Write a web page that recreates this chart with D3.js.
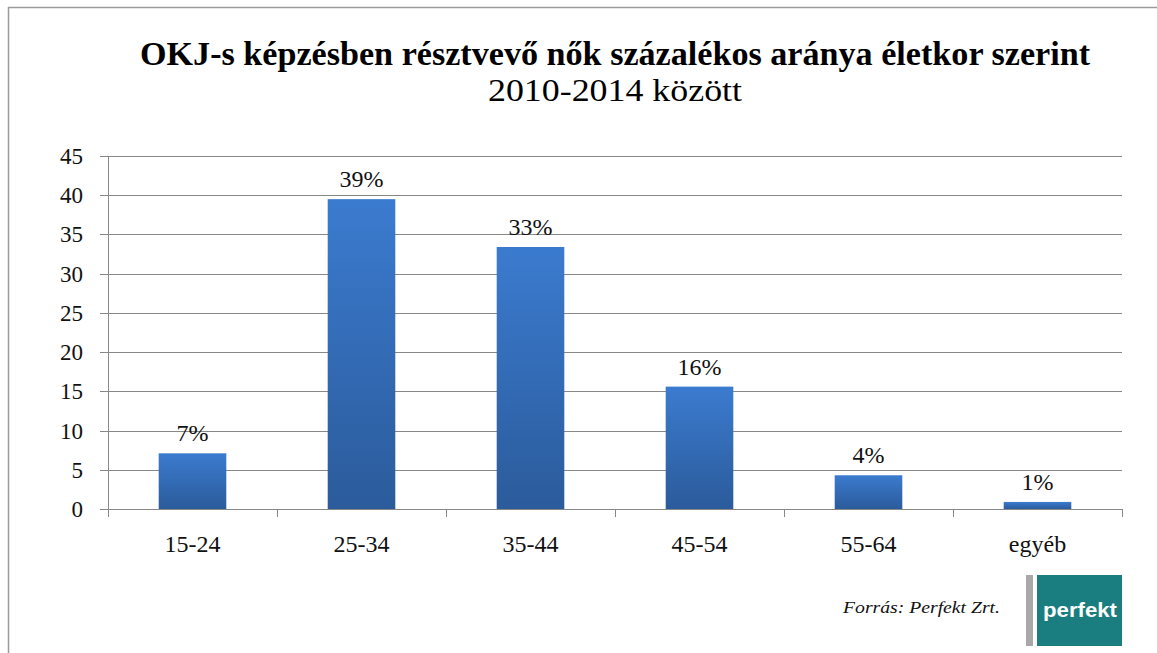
<!DOCTYPE html>
<html>
<head>
<meta charset="utf-8">
<script src="https://cdn.jsdelivr.net/npm/d3@7"></script>
<style>
  body { margin: 0; background: #fff; }
  svg { display: block; }
</style>
</head>
<body>
<svg width="1157" height="653"></svg>
<script>
var categories = ["15-24", "25-34", "35-44", "45-54", "55-64", "egyéb"];
var values = [7.1, 39.5, 33.4, 15.6, 4.3, 0.9];
var labels = ["7%", "39%", "33%", "16%", "4%", "1%"];
var yTicks = [0, 5, 10, 15, 20, 25, 30, 35, 40, 45];

var svg = d3.select("svg"),
  width = +svg.attr("width"),
  height = +svg.attr("height");

var serif = "'Liberation Serif', 'DejaVu Serif', serif";
var margin = {left: 108, right: 1122, top: 156, bottom: 509};

// frame (top + left only visible)
svg.append("line").attr("x1", 8).attr("x2", width).attr("y1", 7.5).attr("y2", 7.5)
  .attr("stroke", "#9a9a9a").attr("stroke-width", 1.5);
svg.append("line").attr("x1", 8.5).attr("x2", 8.5).attr("y1", 7).attr("y2", height)
  .attr("stroke", "#9a9a9a").attr("stroke-width", 1.5);

var defs = svg.append("defs");
var grad = defs.append("linearGradient").attr("id", "barGrad")
  .attr("x1", 0).attr("y1", 0).attr("x2", 0).attr("y2", 1);
grad.append("stop").attr("offset", "0%").attr("stop-color", "#3b7bcf");
grad.append("stop").attr("offset", "100%").attr("stop-color", "#2b5b9b");

var x = d3.scaleBand()
  .domain(categories)
  .range([margin.left, margin.right])
  .paddingInner(0.6)
  .paddingOuter(0.3);

var xOuter = d3.scaleBand()
  .domain(categories)
  .range([margin.left, margin.right]);

var y = d3.scaleLinear()
  .domain([0, 45])
  .range([margin.bottom, margin.top]);

// gridlines
svg.append("g")
  .selectAll("line")
  .data(yTicks)
  .enter().append("line")
  .attr("x1", margin.left - 8)
  .attr("x2", margin.right)
  .attr("y1", function(d) { return Math.round(y(d)) + 0.5; })
  .attr("y2", function(d) { return Math.round(y(d)) + 0.5; })
  .attr("stroke", "#888")
  .attr("stroke-width", 1);

// y axis line
svg.append("line")
  .attr("x1", margin.left + 0.5).attr("x2", margin.left + 0.5)
  .attr("y1", margin.top).attr("y2", margin.bottom + 8)
  .attr("stroke", "#888");

// category ticks
var catTicks = d3.range(categories.length + 1).map(function(i) {
  return margin.left + i * xOuter.step();
});
svg.append("g")
  .selectAll("line")
  .data(catTicks)
  .enter().append("line")
  .attr("x1", function(d) { return Math.round(d) + 0.5; })
  .attr("x2", function(d) { return Math.round(d) + 0.5; })
  .attr("y1", margin.bottom)
  .attr("y2", margin.bottom + 8)
  .attr("stroke", "#888");

// y labels
svg.append("g")
  .selectAll("text")
  .data(yTicks)
  .enter().append("text")
  .attr("x", 83)
  .attr("y", function(d) { return y(d); })
  .attr("dy", "0.35em")
  .attr("text-anchor", "end")
  .style("font-family", serif)
  .style("font-size", "23px")
  .style("fill", "#111")
  .text(function(d) { return d; });

// bars
svg.append("g")
  .selectAll("rect")
  .data(values)
  .enter().append("rect")
  .attr("x", function(d, i) { return x(categories[i]); })
  .attr("width", x.bandwidth())
  .attr("y", function(d) { return y(d); })
  .attr("height", function(d) { return y(0) - y(d); })
  .attr("fill", "url(#barGrad)");

// value labels
svg.append("g")
  .selectAll("text")
  .data(values)
  .enter().append("text")
  .attr("x", function(d, i) { return x(categories[i]) + x.bandwidth() / 2; })
  .attr("y", function(d) { return y(d) - 12; })
  .attr("text-anchor", "middle")
  .style("font-family", serif)
  .style("font-size", "24px")
  .style("fill", "#111")
  .text(function(d, i) { return labels[i]; });

// category labels
svg.append("g")
  .selectAll("text")
  .data(categories)
  .enter().append("text")
  .attr("x", function(d) { return xOuter(d) + xOuter.bandwidth() / 2; })
  .attr("y", 552)
  .attr("text-anchor", "middle")
  .style("font-family", serif)
  .style("font-size", "24px")
  .style("fill", "#111")
  .text(function(d) { return d; });

// title
var cx = (margin.left + margin.right) / 2;
svg.append("text")
  .attr("x", cx).attr("y", 65)
  .attr("text-anchor", "middle")
  .attr("textLength", 950)
  .attr("lengthAdjust", "spacingAndGlyphs")
  .style("font-family", serif)
  .style("font-size", "33px")
  .style("font-weight", "bold")
  .style("fill", "#000")
  .text("OKJ-s képzésben résztvevő nők százalékos aránya életkor szerint");

svg.append("text")
  .attr("x", cx).attr("y", 101)
  .attr("text-anchor", "middle")
  .attr("textLength", 254)
  .attr("lengthAdjust", "spacingAndGlyphs")
  .style("font-family", serif)
  .style("font-size", "32px")
  .style("fill", "#000")
  .text("2010-2014 között");

// source
svg.append("text")
  .attr("x", 1000).attr("y", 613)
  .attr("text-anchor", "end")
  .attr("textLength", 157)
  .attr("lengthAdjust", "spacingAndGlyphs")
  .style("font-family", serif)
  .style("font-size", "17px")
  .style("font-style", "italic")
  .style("fill", "#111")
  .text("Forrás: Perfekt Zrt.");

// logo
svg.append("rect").attr("x", 1026).attr("y", 575).attr("width", 7).attr("height", 71).attr("fill", "#a8a8a8");
svg.append("rect").attr("x", 1037).attr("y", 575).attr("width", 85).attr("height", 71).attr("fill", "#1a7e80");
svg.append("text")
  .attr("x", 1080).attr("y", 617)
  .attr("text-anchor", "middle")
  .attr("textLength", 74)
  .attr("lengthAdjust", "spacingAndGlyphs")
  .style("font-family", "'Liberation Sans', Arial, sans-serif")
  .style("font-size", "21px")
  .style("font-weight", "bold")
  .style("fill", "#fff")
  .text("perfekt");
</script>
</body>
</html>
